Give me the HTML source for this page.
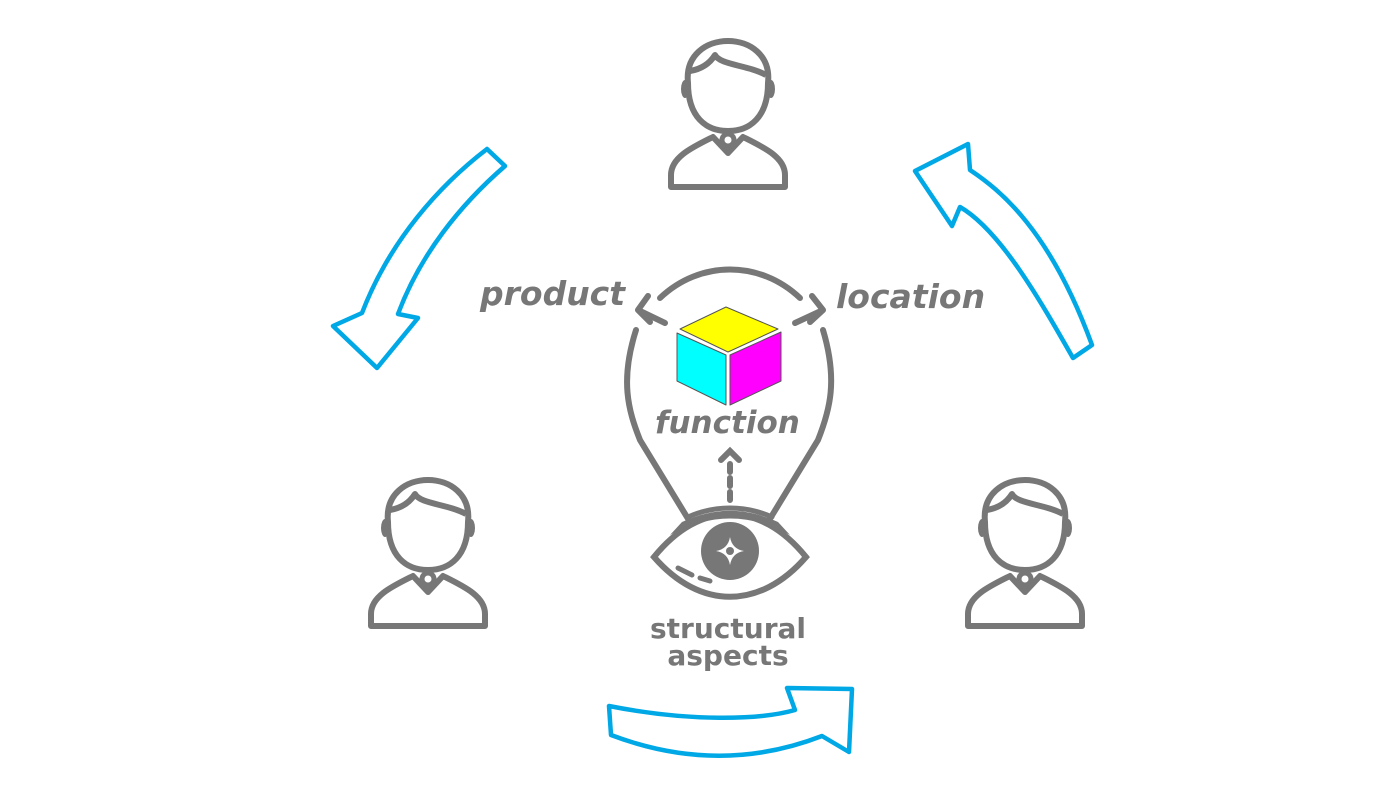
<!DOCTYPE html>
<html><head><meta charset="utf-8"><style>
html,body{margin:0;padding:0;background:#fff;}
svg{display:block}
text{font-family:"DejaVu Sans","Liberation Sans",sans-serif;font-weight:bold;fill:#777}
</style></head><body>
<svg width="1400" height="787" viewBox="0 0 1400 787" xmlns="http://www.w3.org/2000/svg">
<defs>
<g id="person" fill="none" stroke="#777" stroke-width="6" stroke-linejoin="round">
  <path d="M20,58 C14,2 106,2 100,58 C100,92 82,106 60,106 C38,106 20,92 20,58 Z"/>
  <path d="M22,46 C34,44 42,38 47,30 C52,40 80,40 98,50"/>
  <ellipse cx="17" cy="64" rx="4" ry="9" fill="#777" stroke="none"/>
  <ellipse cx="103" cy="64" rx="4" ry="9" fill="#777" stroke="none"/>
  <path d="M3,162 L3,150 C3,132 25,122 45,112 L60,128 L75,112 C95,122 117,132 117,150 L117,162 Z"/>
  <circle cx="60" cy="115" r="6" stroke-width="5" fill="#fff"/>
</g>
</defs>
<use href="#person" x="668" y="25"/>
<use href="#person" x="368" y="464"/>
<use href="#person" x="965" y="464"/>

<g fill="none" stroke="#00a8e6" stroke-width="4.5" stroke-linejoin="round">
  <path d="M487,149 C440,185 390,240 362,313 L333,326 L377,368 L418,318 L398,314 C420,255 460,205 505,166 Z"/>
  <path d="M915,171 L968,144 L970,170 C1000,190 1050,230 1092,345 L1073,358 C1040,300 1000,230 960,207 L952,226 Z"/>
  <path d="M609,706 C690,722 760,720 795,710 L787,688 L852,689 L849,752 L822,736 C760,760 690,765 611,735 Z"/>
</g>

<g fill="none" stroke="#777" stroke-width="6" stroke-linecap="round">
  <path d="M660,298 C700,260 760,260 800,298"/>
  <path d="M636,330 C620,380 628,410 640,440 L690,522"/>
  <path d="M823,330 C838,380 830,410 818,440 L768,522"/>
  <path d="M665,323 L638,310 M638,310 L648,296 M638,310 L650,322"/>
  <path d="M795,323 L823,310 M823,310 L812,296 M823,310 L810,322"/>
  <path d="M730,500 L730,462" stroke-dasharray="8,6"/>
  <path d="M721,460 L730,451 L739,460"/>
  <path d="M654,557 C700,500 760,500 806,557 C760,610 700,610 654,557 Z"/>
  <path d="M688,517 C715,505 745,505 772,517" stroke-width="5"/>
  <path d="M678,568 L692,575 M700,578 L710,581" stroke-width="5"/>
</g>
<path d="M682,522 C715,507 745,507 778,522 L790,535 C750,513 710,513 670,535 Z" fill="#777"/>
<circle cx="730" cy="551" r="29" fill="#777"/>
<path d="M730,537 Q732,549 744,551 Q732,553 730,565 Q728,553 716,551 Q728,549 730,537 Z" fill="#fff"/>
<circle cx="730" cy="551" r="4" fill="#777"/>

<g stroke="#555" stroke-width="1" stroke-linejoin="round">
  <path d="M680,329 L726,307 L778,329 L728,352 Z" fill="#ffff00"/>
  <path d="M677,333 L726,355 L726,405 L677,381 Z" fill="#00ffff"/>
  <path d="M730,355 L781,332 L781,381 L730,405 Z" fill="#ff00ff"/>
</g>

<text x="480" y="305" font-size="33" font-style="italic">product</text>
<text x="836" y="308" font-size="33" font-style="italic">location</text>
<text x="655" y="433" font-size="31" font-style="italic">function</text>
<text x="728" y="638" font-size="28" text-anchor="middle">structural</text>
<text x="728" y="665" font-size="28" text-anchor="middle">aspects</text>
</svg>
</body></html>
